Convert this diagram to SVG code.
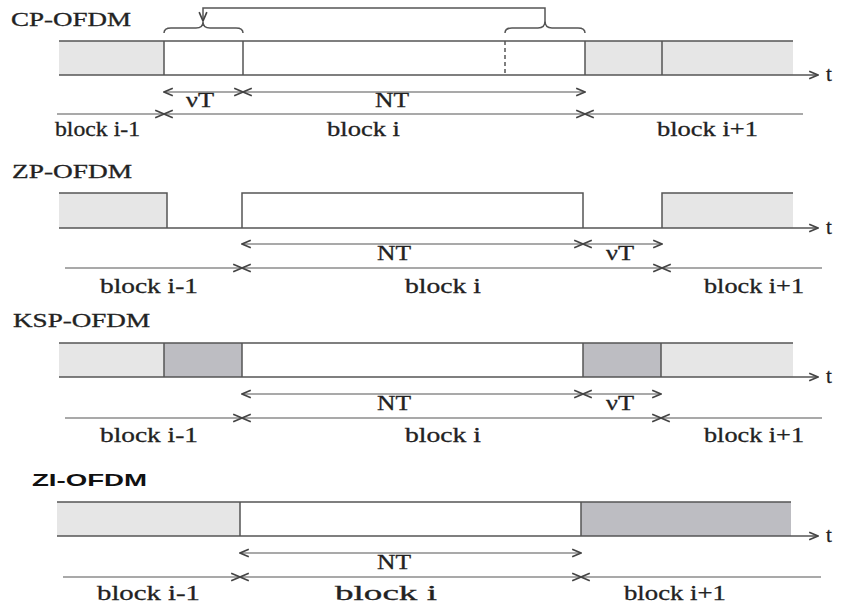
<svg xmlns="http://www.w3.org/2000/svg" width="848" height="605" viewBox="0 0 848 605">
<defs>
<marker id="chev" viewBox="0 0 10 10" refX="9" refY="5" markerWidth="11" markerHeight="11" markerUnits="userSpaceOnUse" orient="auto-start-reverse">
<path d="M1,1.5 L9,5 L1,8.5" fill="none" stroke="#444" stroke-width="1.5"/>
</marker>
<style>
.ln{stroke:#555;stroke-width:1.5;fill:none}
.lt{fill:#e6e6e6}
.dk{fill:#bdbdc2}
.dim{stroke:#555;stroke-width:1.2;fill:none;marker-start:url(#chev);marker-end:url(#chev)}
.dimE{stroke:#555;stroke-width:1.2;fill:none;marker-end:url(#chev)}
.dimS{stroke:#555;stroke-width:1.2;fill:none;marker-start:url(#chev)}
.tx{font-family:"Liberation Serif","Times New Roman",serif;font-size:21px;fill:#222;stroke:#222;stroke-width:0.3}
.ti{font-family:"Liberation Serif","Times New Roman",serif;font-size:19px;fill:#222;stroke:#222;stroke-width:0.3}
.tb{font-family:"Liberation Sans",Arial,sans-serif;font-size:17px;font-weight:bold;fill:#111}
</style>
</defs>
<rect width="848" height="605" fill="#fff"/>

<!-- CP-OFDM -->
<g id="cp-ofdm">
<text class="ti" x="11" y="26" textLength="120" lengthAdjust="spacingAndGlyphs">CP-OFDM</text>
<rect class="lt" x="59" y="41" width="105" height="34"/>
<rect class="lt" x="585" y="41" width="208" height="34"/>
<path class="ln" d="M59,41 H793 M164,41 V75 M243,41 V75 M585,41 V75 M662,41 V75"/>
<path class="ln" d="M505,41 V75" stroke-dasharray="4,3"/>
<path class="ln" d="M164,33 Q164,28 171,28 H196 Q203,28 203,22 Q203,28 210,28 H236 Q243,28 243,33"/>
<path class="ln" d="M505,33 Q505,28 512,28 H538 Q545,28 545,21 Q545,28 552,28 H578 Q585,28 585,33"/>
<text class="tx" x="186" y="107" textLength="28" lengthAdjust="spacingAndGlyphs">νT</text>
<text class="tx" x="375" y="107" textLength="34" lengthAdjust="spacingAndGlyphs">NT</text>
<text class="tx" x="55" y="136" textLength="85" lengthAdjust="spacingAndGlyphs">block i-1</text>
<text class="tx" x="327" y="136" textLength="73" lengthAdjust="spacingAndGlyphs">block i</text>
<text class="tx" x="657" y="136" textLength="101" lengthAdjust="spacingAndGlyphs">block i+1</text>
<text class="tx" x="826" y="81">t</text>
</g>

<!-- ZP-OFDM -->
<g id="zp-ofdm">
<text class="ti" x="12" y="178" textLength="120" lengthAdjust="spacingAndGlyphs">ZP-OFDM</text>
<rect class="lt" x="59" y="193" width="108" height="35"/>
<rect class="lt" x="662" y="193" width="131" height="35"/>
<path class="ln" d="M59,193 H167 V228 M242,228 V193 H583 V228 M662,228 V193 H793"/>
<text class="tx" x="377" y="260" textLength="34" lengthAdjust="spacingAndGlyphs">NT</text>
<text class="tx" x="606" y="260" textLength="28" lengthAdjust="spacingAndGlyphs">νT</text>
<text class="tx" x="100" y="293" textLength="98" lengthAdjust="spacingAndGlyphs">block i-1</text>
<text class="tx" x="405" y="293" textLength="76" lengthAdjust="spacingAndGlyphs">block i</text>
<text class="tx" x="704" y="293" textLength="100" lengthAdjust="spacingAndGlyphs">block i+1</text>
<text class="tx" x="826" y="234">t</text>
</g>

<!-- KSP-OFDM -->
<g id="ksp-ofdm">
<text class="ti" x="13" y="327" textLength="137" lengthAdjust="spacingAndGlyphs">KSP-OFDM</text>
<rect class="lt" x="59" y="343" width="105" height="34"/>
<rect class="dk" x="164" y="343" width="78" height="34"/>
<rect class="dk" x="583" y="343" width="78" height="34"/>
<rect class="lt" x="661" y="343" width="132" height="34"/>
<path class="ln" d="M59,343 H793 M164,343 V377 M242,343 V377 M583,343 V377 M661,343 V377"/>
<text class="tx" x="377" y="410" textLength="34" lengthAdjust="spacingAndGlyphs">NT</text>
<text class="tx" x="606" y="410" textLength="28" lengthAdjust="spacingAndGlyphs">νT</text>
<text class="tx" x="100" y="442" textLength="98" lengthAdjust="spacingAndGlyphs">block i-1</text>
<text class="tx" x="405" y="442" textLength="76" lengthAdjust="spacingAndGlyphs">block i</text>
<text class="tx" x="704" y="442" textLength="100" lengthAdjust="spacingAndGlyphs">block i+1</text>
<text class="tx" x="826" y="383">t</text>
</g>

<!-- ZI-OFDM -->
<g id="zi-ofdm">
<text class="tb" x="32" y="486" textLength="115" lengthAdjust="spacingAndGlyphs">ZI-OFDM</text>
<rect class="lt" x="57" y="502" width="183" height="34"/>
<rect class="dk" x="581" y="502" width="210" height="34"/>
<path class="ln" d="M57,502 H791 M240,502 V536 M581,502 V536"/>
<text class="tx" x="377" y="569" textLength="34" lengthAdjust="spacingAndGlyphs">NT</text>
<text class="tx" x="97" y="600" textLength="103" lengthAdjust="spacingAndGlyphs">block i-1</text>
<text class="tx" x="335" y="600" textLength="102" lengthAdjust="spacingAndGlyphs">block i</text>
<text class="tx" x="624" y="600" textLength="102" lengthAdjust="spacingAndGlyphs">block i+1</text>
<text class="tx" x="826" y="542">t</text>
</g>

<g id="connectors">
<!-- time axes -->
<path class="ln" d="M59,75 H818" marker-end="url(#chev)"/>
<path class="ln" d="M59,228 H818" marker-end="url(#chev)"/>
<path class="ln" d="M59,377 H818" marker-end="url(#chev)"/>
<path class="ln" d="M57,536 H818" marker-end="url(#chev)"/>
<!-- CP top pointer -->
<path class="ln" d="M545,21 V8 H203 V21" stroke-width="1.2" marker-end="url(#chev)"/>
<!-- CP dims -->
<path class="dim" d="M164,92 H243"/>
<path class="dim" d="M243,92 H585"/>
<path class="dimE" d="M57,114 H164"/>
<path class="dim" d="M164,114 H585"/>
<path class="dimS" d="M585,114 H803"/>
<!-- ZP dims -->
<path class="dim" d="M242,244 H583"/>
<path class="dim" d="M583,244 H662"/>
<path class="dimE" d="M65,268 H242"/>
<path class="dim" d="M242,268 H662"/>
<path class="dimS" d="M662,268 H822"/>
<!-- KSP dims -->
<path class="dim" d="M242,394 H583"/>
<path class="dim" d="M583,394 H661"/>
<path class="dimE" d="M65,418 H242"/>
<path class="dim" d="M242,418 H661"/>
<path class="dimS" d="M661,418 H822"/>
<!-- ZI dims -->
<path class="dim" d="M240,553 H581"/>
<path class="dimE" d="M63,577 H240"/>
<path class="dim" d="M240,577 H581"/>
<path class="dimS" d="M581,577 H821"/>
</g>
</svg>
